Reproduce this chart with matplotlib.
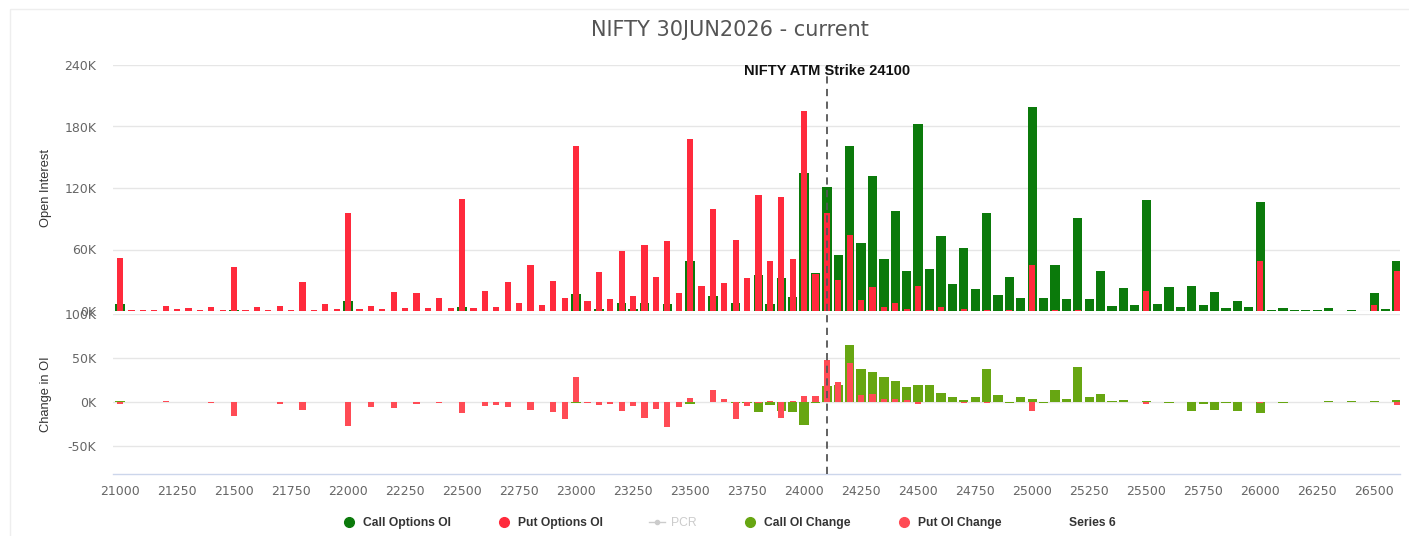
import numpy as np
import matplotlib
matplotlib.use('Agg')
import matplotlib.pyplot as plt
from matplotlib.lines import Line2D
from matplotlib.patches import Rectangle

# ── Donnees (en milliers de contrats) ─────────────────────────────────────────
strikes = np.arange(21000, 26601, 50)
atm_strike = 24100

call_oi = [
    7, 0, 0, 0, 0, 0, 0, 0, 0, 0,                      # 21000-21450
    1, 0, 0, 0, 0, 0, 0, 0, 0, 0,                      # 21500-21950
    10, 0, 0, 0, 0, 0, 0, 0, 0, 0,                     # 22000-22450
    4, 0, 0, 0, 0, 0, 0, 0, 0, 0,                      # 22500-22950
    17, 0, 2, 0, 7.5, 2, 7.5, 0, 6.5, 0,               # 23000-23450
    49, 0, 15, 0, 7.5, 0, 35, 6.5, 32, 14,             # 23500-23950
    135, 37, 121, 55, 161, 66, 132, 51, 98, 39,        # 24000-24450
    182, 41, 73, 26, 61, 21.5, 96, 16, 33, 13,         # 24500-24950
    199, 13, 45, 12, 91, 12, 39, 4.5, 22, 5.5,         # 25000-25450
    108, 7, 23, 4, 24, 5.5, 18.5, 2.5, 10, 3.5,        # 25500-25950
    106, 0.8, 2.5, 1, 1, 1, 2.5, 0, 1, 0,              # 26000-26450
    17.5, 2, 49,                                       # 26500-26600
]
put_oi = [
    52, 0.5, 1, 0.5, 5, 2, 3, 0.5, 4, 0.5,
    43, 0.5, 4, 1, 5, 1, 28, 1, 7, 2,
    96, 2, 5, 2, 19, 3, 18, 3, 13, 3,
    109, 3, 20, 4, 28, 7.5, 45, 5.5, 29, 13,
    161, 10, 38, 12, 59, 15, 64, 33, 68, 18,
    168, 24, 100, 27, 69, 32, 113, 49, 111, 51,
    195, 36, 96, 30, 74, 11, 23, 4, 7.5, 2,
    24, 1, 4, 0, 2, 0, 1, 0, 1, 0,
    45, 0, 1, 0, 1, 0, 0, 0, 0, 0,
    20, 0, 0, 0, 0, 0, 0, 0, 0, 0,
    49, 0, 0, 0, 0, 0, 0, 0, 0, 0,
    6, 0, 39,
]
call_chg = [
    0.5, 0, 0, 0, 0, 0, 0, 0, 0, 0,
    0, 0, 0, 0, 0, 0, 0, 0, 0, 0,
    0, 0, 0, 0, 0, 0, 0, 0, 0, 0,
    0, 0, 0, 0, 0, 0, 0, 0, 0, 0,
    -1, 0, 0, 0, -0.5, 0, 0, 0, 0, 0,
    -3, 0, -0.5, 0, -2, -1, -12, -4, -11, -12,
    -26, -1, 18, 19, 65, 37, 33.5, 28, 24, 17,
    19, 19, 10, 5, 2, 5, 37, 8, -1, 5,
    3, -1, 13, 3, 40, 5, 9, 1, 1.5, 0,
    0.5, 0, -1, 0, -11, -3, -9, -1, -11, 0,
    -13, 0, -1, 0, 0, 0, 1, 0, 1, 0,
    1, 0, 2,
]
put_chg = [
    -2.5, 0, 0, 0, 1, 0, 0, 0, -1, 0,
    -16, 0, 0, 0, -2.5, 0, -9, 0, 0, 0,
    -28, 0, -6, 0, -7, 0, -3, 0, -1, 0,
    -13, 0, -5, -4, -6, 0, -9.5, -0.5, -12, -20,
    28, -1, -4, -3, -11, -5, -19, -8, -29, -6.5,
    4, 0, 13, 3, -20, -5, -1, 1, -18, 0.5,
    6, 6.5, 47, 22, 44, 8, 9, 3, 3, 2,
    -3, 0, 0, 0, -1, 0, -1, 0, 0, 0,
    -11, 0, 0, 0, 0, 0, 0, 0, 0, 0,
    -3, 0, 0, 0, 0, 0, 0, 0, 0, 0,
    -2, 0, 0, 0, 0, 0, 0, 0, 0, 0,
    0, 0, -4,
]

oi_ticks = [0, 60, 120, 180, 240]
chg_ticks = [-50, 0, 50, 100]
x_ticks = np.arange(21000, 26501, 250)

C_CALL = '#0b7a0b'
C_PUT = '#ff2a3c'
C_CALL_CHG = '#67a612'
C_PUT_CHG = '#ff4b55'
GRID = '#e6e6e6'
TXT = '#666666'

W, H = 1409, 536
fig = plt.figure(figsize=(W / 100, H / 100), dpi=100)

# cadre tres clair autour du graphique
fig.patches.append(Rectangle((10 / W, -0.02), 1.0, 1 - 9 / H + 0.02, transform=fig.transFigure,
                             fill=False, edgecolor='#eeeeee', linewidth=1.0))

left, right = 113 / W, 1400 / W
ax1 = fig.add_axes([left, 1 - 311 / H, right - left, (311 - 65) / H])
ax2 = fig.add_axes([left, 1 - 474 / H, right - left, (474 - 314) / H], sharex=ax1)

# ── Open Interest ─────────────────────────────────────────────────────────────
ax1.bar(strikes, call_oi, width=41, color=C_CALL, linewidth=0, zorder=2)
ax1.bar(strikes, put_oi, width=27, color=C_PUT, linewidth=0, zorder=3)
ax1.set_ylim(0, 240)
ax1.set_yticks(oi_ticks)
ax1.set_yticklabels([f'{v}K' for v in oi_ticks])
ax1.set_ylabel('Open Interest', fontsize=9.3, color='#333333', family='Liberation Sans')
ax1.axvline(atm_strike, color='#555555', linestyle=(0, (4, 3)), linewidth=1.3, zorder=4)
ax1.text(atm_strike, 234, f'NIFTY ATM Strike {atm_strike}', ha='center', va='center',
         fontsize=10.5, fontweight='bold', family='Liberation Sans', color='#111111', zorder=5)
ax1.tick_params(axis='x', labelbottom=False, length=0)

# ── Change in OI ──────────────────────────────────────────────────────────────
ax2.bar(strikes, call_chg, width=41, color=C_CALL_CHG, linewidth=0, zorder=2)
ax2.bar(strikes, put_chg, width=27, color=C_PUT_CHG, linewidth=0, zorder=3)
ax2.set_ylim(-82.4, 100)
ax2.set_yticks(chg_ticks)
ax2.set_yticklabels([f'{v}K' for v in chg_ticks])
ax2.set_ylabel('Change in OI', fontsize=9.3, color='#333333', family='Liberation Sans')
ax2.axvline(atm_strike, color='#555555', linestyle=(0, (4, 3)), linewidth=1.3, zorder=4)
ax2.set_xticks(x_ticks)
ax2.set_xticklabels([str(s) for s in x_ticks])
ax2.set_xlim(20969, 26613)

lab_x = (52 - 113) / (1400 - 113)
for ax in (ax1, ax2):
    ax.yaxis.set_label_coords(lab_x, 0.5)
    ax.grid(axis='y', color=GRID, linewidth=1.0, zorder=0)
    ax.set_axisbelow(True)
    for s in ('top', 'right', 'left', 'bottom'):
        ax.spines[s].set_visible(False)
    ax.tick_params(axis='y', length=0, pad=12, labelsize=9, labelcolor=TXT)
    ax.tick_params(axis='x', length=0, pad=8, labelsize=9, labelcolor=TXT)

ax2.spines['bottom'].set_visible(True)
ax2.spines['bottom'].set_color('#ccd6eb')
ax2.spines['bottom'].set_linewidth(1.0)

fig.text(730 / W, 1 - 30 / H, 'NIFTY 30JUN2026 - current', ha='center', va='center',
         fontsize=15, color='#555555')

# ── Legende ───────────────────────────────────────────────────────────────────
handles = [
    Line2D([], [], marker='o', linestyle='none', markersize=7, color=C_CALL),
    Line2D([], [], marker='o', linestyle='none', markersize=7, color=C_PUT),
    Line2D([], [], marker='o', linestyle='-', markersize=3, color='#cccccc', linewidth=1),
    Line2D([], [], marker='o', linestyle='none', markersize=7, color=C_CALL_CHG),
    Line2D([], [], marker='o', linestyle='none', markersize=7, color=C_PUT_CHG),
    Line2D([], [], linestyle='none'),
]
labels = ['Call Options OI', 'Put Options OI', 'PCR', 'Call OI Change', 'Put OI Change', 'Series 6']
leg = fig.legend(handles, labels, loc='center', bbox_to_anchor=(0.517, 1 - 523 / H), ncol=6,
                 frameon=False, handlelength=1.3, handletextpad=0.5, columnspacing=3.8,
                 prop={'family': 'Liberation Sans', 'weight': 'bold', 'size': 8.7})
for t in leg.get_texts():
    t.set_color('#333333')
leg.get_texts()[2].set_color('#cccccc')
leg.get_texts()[2].set_fontweight('normal')

fig.savefig('out.png', dpi=100)
